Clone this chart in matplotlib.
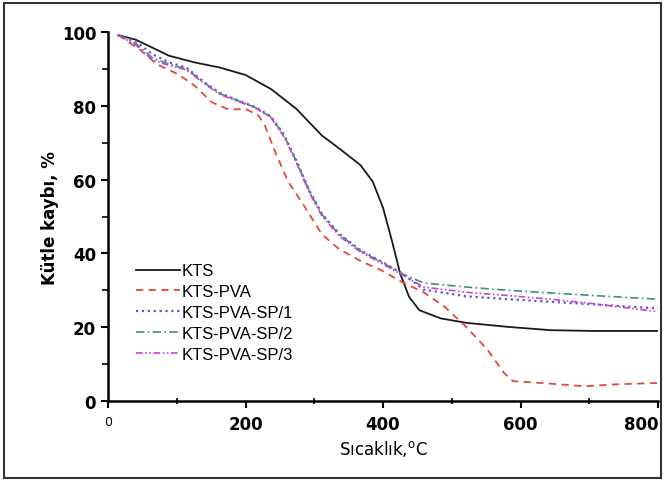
#!/usr/bin/env python3
# -*- coding: utf8 -*-
"""TGA curves: mass loss vs temperature for KTS and KTS-PVA films."""

import matplotlib
matplotlib.use('Agg')
import matplotlib.pyplot as plt
from matplotlib.patches import Rectangle

# Temperature (C) / remaining mass (%)
kts_t = [15, 40, 89, 126, 163, 200, 237, 274, 311, 336, 367, 385, 400,
         413, 425, 438, 453, 484, 521, 582, 644, 706, 800]
kts_m = [99.2, 98, 93.6, 91.8, 90.4, 88.4, 84.6, 79.2, 72, 68.5, 64, 59.5,
         52.4, 43.4, 34.5, 28.2, 24.6, 22.4, 21.2, 20.1, 19.2, 19, 19]

pva_t = [15, 46, 71, 102, 126, 151, 176, 200, 219, 228, 243, 262, 287, 311,
         336, 367, 398, 428, 459, 490, 521, 552, 576, 589, 644, 693, 736, 800]
pva_m = [99.2, 95.3, 91.3, 88.6, 85.5, 81, 79, 79.2, 77.4, 74.8, 67.6, 59.5,
         52.4, 45.2, 41.2, 38, 35.4, 32.2, 29.5, 25.5, 20.1, 13.9, 7.6, 5.4,
         4.7, 4, 4.5, 4.9]

sp_t = [15, 40, 65, 89, 114, 139, 163, 188, 213, 237, 256, 274, 293, 311,
        336, 367, 398, 428, 459, 521, 582, 644, 706, 800]
sp1_m = [99.2, 97.6, 94, 91.8, 90.4, 86.6, 83.5, 81.6, 79.8, 77.2, 72.2,
         65.2, 57, 50.8, 45.4, 40.9, 37.8, 34.6, 30.2, 28.4, 27.6, 26.9,
         26.2, 25.1]
sp2_m = [99.2, 97, 93, 91.3, 90, 86.4, 83.3, 81.5, 79.7, 77, 72, 65, 56.8,
         50.6, 45.2, 40.7, 37.6, 34.5, 32, 30.9, 30, 29.3, 28.6, 27.6]
sp3_m = [99.2, 96.6, 92.4, 91, 89.8, 86.2, 83.1, 81.3, 79.6, 76.8, 71.6,
         64.6, 56.4, 50.2, 44.8, 40.4, 37.3, 34.2, 30.9, 29.5, 28.6, 27.6,
         26.4, 24.2]

FONT = 'DejaVu Sans'


def main():
    fig = plt.figure(figsize=(6.64, 4.81), dpi=100)
    ax = fig.add_axes([0.1627, 0.1642, 0.8283, 0.7668])

    ax.plot(kts_t, kts_m, '-', color='#1a1a1a', lw=1.3, label='KTS')
    ax.plot(pva_t, pva_m, '--', color='#e8473c', lw=1.3, label='KTS-PVA',
            dashes=(4, 3))
    ax.plot(sp_t, sp1_m, ':', color='#5a5ad0', lw=1.6, label='KTS-PVA-SP/1')
    ax.plot(sp_t, sp2_m, '-.', color='#3f8f80', lw=1.2, label='KTS-PVA-SP/2',
            dashes=(5, 2, 1, 2))
    ax.plot(sp_t, sp3_m, color='#d040d0', lw=1.2, label='KTS-PVA-SP/3',
            dashes=(4, 1.5, 1, 1.5, 1, 1.5))

    ax.set_xlim(0, 800)
    ax.set_ylim(0, 100)
    ax.set_xticks([0, 200, 400, 600, 800])
    ax.set_xticks([100, 300, 500, 700], minor=True)
    ax.set_yticks([0, 20, 40, 60, 80, 100])
    ax.set_yticks([10, 30, 50, 70, 90], minor=True)

    for side in ('top', 'right'):
        ax.spines[side].set_visible(False)
    for side in ('left', 'bottom'):
        ax.spines[side].set_linewidth(1.8)

    ax.tick_params(axis='both', which='major', length=5, width=1.5,
                   direction='out')
    ax.tick_params(axis='y', which='minor', length=4, width=1.2,
                   direction='out')
    ax.tick_params(axis='x', which='minor', length=5, width=1.2,
                   direction='inout')
    ax.tick_params(axis='x', which='major', pad=5)

    for lbl in ax.get_xticklabels() + ax.get_yticklabels():
        lbl.set_family(FONT)
        lbl.set_fontweight('bold')
        lbl.set_fontsize(12)
    xlbls = ax.get_xticklabels()
    xlbls[0].set_fontweight('normal')
    xlbls[0].set_fontsize(9)
    xlbls[-1].set_horizontalalignment('right')

    ax.set_xlabel('Sıcaklık,$^{\\mathrm{o}}$C', family=FONT, fontsize=12,
                  labelpad=4)
    ax.set_ylabel('Kütle kaybı, %', family=FONT, fontweight='bold',
                  fontsize=12, labelpad=2)

    ax.legend(loc='lower left', bbox_to_anchor=(0.03, 0.075), frameon=False,
              prop={'family': 'Liberation Sans', 'size': 12},
              handlelength=2.6, handletextpad=0.1, labelspacing=0.35,
              borderpad=0.2)

    fig.patches.append(Rectangle((0.006, 0.004), 0.99, 0.988,
                                 transform=fig.transFigure, fill=False,
                                 edgecolor='#333333', lw=1.5))

    fig.savefig('out.png', dpi=100)


if __name__ == '__main__':
    main()
